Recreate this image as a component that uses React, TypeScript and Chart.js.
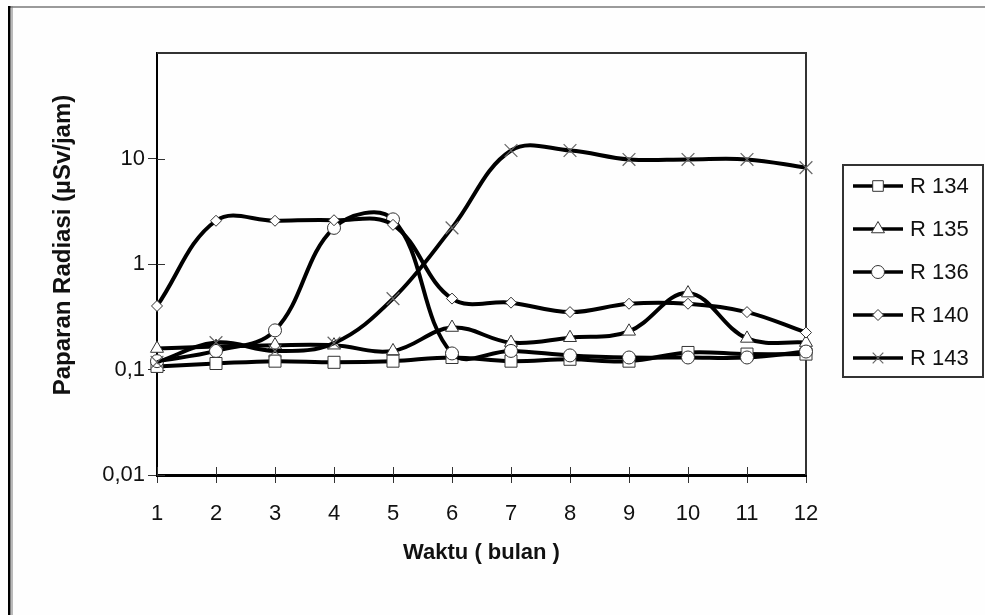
import React, { useEffect, useRef } from 'react';
import { Chart, registerables } from 'chart.js';

Chart.register(...registerables);

const months = ['1', '2', '3', '4', '5', '6', '7', '8', '9', '10', '11', '12'];
const r134 = [0.107, 0.114, 0.12, 0.117, 0.12, 0.13, 0.12, 0.125, 0.12, 0.145, 0.14, 0.14];
const r135 = [0.158, 0.165, 0.17, 0.17, 0.15, 0.25, 0.18, 0.2, 0.23, 0.53, 0.197, 0.18];
const r136 = [0.12, 0.15, 0.235, 2.2, 2.65, 0.142, 0.15, 0.136, 0.13, 0.13, 0.13, 0.148];
const r140 = [0.4, 2.57, 2.57, 2.6, 2.35, 0.47, 0.43, 0.35, 0.42, 0.42, 0.35, 0.224];
const r143 = [0.117, 0.18, 0.15, 0.178, 0.47, 2.2, 11.9, 11.9, 9.8, 9.8, 9.8, 8.2];
const yTicks = [0.01, 0.1, 1, 10];
const yTickLabels = ['0,01', '0,1', '1', '10'];

const seriesNames = ['R 134', 'R 135', 'R 136', 'R 140', 'R 143'];
const seriesData = [r134, r135, r136, r140, r143];
const pointStyles = ['rect', 'triangle', 'circle', 'rectRot', 'crossRot'];
const pointRadii = [8.5, 7.5, 6.5, 5.5, 9];

const FONT = '"Liberation Sans", Arial, sans-serif';

function drawMarker(ctx: CanvasRenderingContext2D, style: string, x: number, y: number, r: number) {
  ctx.save();
  ctx.fillStyle = '#fff';
  ctx.strokeStyle = style === 'crossRot' ? '#666' : '#333';
  ctx.lineWidth = 1;
  ctx.beginPath();
  if (style === 'rect') {
    const s = r * Math.SQRT1_2;
    ctx.rect(x - s, y - s, 2 * s, 2 * s);
    ctx.fill();
    ctx.stroke();
  } else if (style === 'triangle') {
    const w = r * Math.sqrt(3) / 2;
    ctx.moveTo(x, y - r);
    ctx.lineTo(x + w, y + r / 2);
    ctx.lineTo(x - w, y + r / 2);
    ctx.closePath();
    ctx.fill();
    ctx.stroke();
  } else if (style === 'circle') {
    ctx.arc(x, y, r, 0, Math.PI * 2);
    ctx.fill();
    ctx.stroke();
  } else if (style === 'rectRot') {
    ctx.moveTo(x, y - r);
    ctx.lineTo(x + r, y);
    ctx.lineTo(x, y + r);
    ctx.lineTo(x - r, y);
    ctx.closePath();
    ctx.fill();
    ctx.stroke();
  } else {
    const s = r * Math.SQRT1_2;
    ctx.moveTo(x - s, y - s);
    ctx.lineTo(x + s, y + s);
    ctx.moveTo(x + s, y - s);
    ctx.lineTo(x - s, y + s);
    ctx.lineWidth = 1.2;
    ctx.stroke();
  }
  ctx.restore();
}

const decorPlugin = {
  id: 'decor',
  beforeDraw(chart: any) {
    const ctx = chart.ctx as CanvasRenderingContext2D;
    ctx.save();
    ctx.fillStyle = '#fefefe';
    ctx.fillRect(0, 0, chart.width, chart.height);
    ctx.fillStyle = '#9a9a9a';
    ctx.fillRect(8, 6, chart.width - 8, 2);
    ctx.fillStyle = '#000';
    ctx.fillRect(8, 6, 2.5, chart.height - 6);
    ctx.fillStyle = '#777';
    ctx.fillRect(11.5, 6, 1, chart.height - 6);
    ctx.restore();
  },
  beforeDatasetsDraw(chart: any) {
    const ctx = chart.ctx as CanvasRenderingContext2D;
    const a = chart.chartArea;
    ctx.save();
    ctx.strokeStyle = '#333';
    ctx.lineWidth = 2;
    ctx.beginPath();
    ctx.moveTo(a.left, a.top);
    ctx.lineTo(a.right, a.top);
    ctx.lineTo(a.right, a.bottom);
    ctx.stroke();
    ctx.strokeStyle = '#333';
    ctx.lineWidth = 1;
    const xs = chart.scales.x;
    const ys = chart.scales.y;
    ctx.beginPath();
    for (let i = 0; i < months.length; i++) {
      const px = Math.round(xs.getPixelForTick(i)) + 0.5;
      ctx.moveTo(px, a.bottom);
      ctx.lineTo(px, a.bottom - 8);
    }
    for (const v of yTicks) {
      const py = Math.round(ys.getPixelForValue(v)) + 0.5;
      ctx.moveTo(a.left, py);
      ctx.lineTo(a.left + 8, py);
    }
    ctx.stroke();
    ctx.restore();
  },
  afterDraw(chart: any) {
    const ctx = chart.ctx as CanvasRenderingContext2D;
    const a = chart.chartArea;
    ctx.save();
    ctx.fillStyle = '#111';
    ctx.font = 'bold 22px ' + FONT;
    ctx.textAlign = 'center';
    ctx.textBaseline = 'middle';
    ctx.fillText('Waktu ( bulan )', (a.left + a.right) / 2, 553);
    ctx.save();
    ctx.translate(63, 245);
    ctx.rotate(-Math.PI / 2);
    ctx.font = 'bold 24px ' + FONT;
    ctx.fillText('Paparan Radiasi (µSv/jam)', 0, 0);
    ctx.restore();
    ctx.strokeStyle = '#333';
    ctx.lineWidth = 2;
    ctx.strokeRect(843, 165, 140, 212);
    ctx.font = '22px ' + FONT;
    ctx.textAlign = 'left';
    for (let i = 0; i < seriesNames.length; i++) {
      const y = 186 + i * 43;
      ctx.strokeStyle = '#000';
      ctx.lineWidth = 3.5;
      ctx.beginPath();
      ctx.moveTo(853, y);
      ctx.lineTo(903, y);
      ctx.stroke();
      drawMarker(ctx, pointStyles[i], 878, y, Math.min(pointRadii[i], 7.5));
      ctx.fillStyle = '#111';
      ctx.fillText(seriesNames[i], 910, y + 1);
    }
    ctx.restore();
  },
};

export default function App() {
  const ref = useRef<HTMLCanvasElement | null>(null);
  useEffect(() => {
    if (!ref.current) return;
    const datasets = seriesNames.map((name, i) => ({
      label: name,
      data: seriesData[i],
      borderColor: '#000',
      borderWidth: 4,
      tension: 0.38,
      fill: false,
      clip: false as any,
      pointStyle: pointStyles[i] as any,
      pointRadius: pointRadii[i],
      pointBackgroundColor: '#fff',
      pointBorderColor: i === 4 ? '#666' : '#333',
      pointBorderWidth: i === 4 ? 1.2 : 1,
      order: seriesNames.length - i,
    }));
    const chart = new Chart(ref.current, {
      type: 'line',
      data: { labels: months, datasets },
      options: {
        responsive: false,
        animation: false,
        devicePixelRatio: 1,
        layout: { padding: { top: 53, right: 179, left: 0, bottom: 0 } },
        plugins: { legend: { display: false }, tooltip: { enabled: false } },
        scales: {
          x: {
            type: 'category',
            offset: false,
            afterFit: (s: any) => { s.height = 140; },
            grid: { display: true, drawOnChartArea: false, drawTicks: true, tickLength: 8, color: '#333', lineWidth: 1 },
            border: { display: true, color: '#000', width: 3 },
            ticks: { color: '#111', font: { family: FONT, size: 22 }, padding: 18, maxRotation: 0, autoSkip: false },
          },
          y: {
            type: 'logarithmic',
            min: 0.01,
            max: 100,
            afterFit: (s: any) => { s.width = 157; },
            afterBuildTicks: (s: any) => { s.ticks = yTicks.map((v) => ({ value: v })); },
            grid: { display: true, drawOnChartArea: false, drawTicks: true, tickLength: 9, color: '#333', lineWidth: 1 },
            border: { display: true, color: '#000', width: 2 },
            ticks: {
              color: '#111',
              font: { family: FONT, size: 22 },
              padding: 3,
              autoSkip: false,
              callback: (v: any) => {
                const idx = yTicks.findIndex((t) => Math.abs(t - Number(v)) < 1e-9);
                return idx >= 0 ? yTickLabels[idx] : '';
              },
            },
          },
        },
      },
      plugins: [decorPlugin],
    });
    return () => chart.destroy();
  }, []);
  return (
    <div style={{ position: 'fixed', left: 0, top: 0, width: 985, height: 615, background: '#fefefe' }}>
      <canvas ref={ref} width={985} height={615} style={{ display: 'block' }} />
    </div>
  );
}
